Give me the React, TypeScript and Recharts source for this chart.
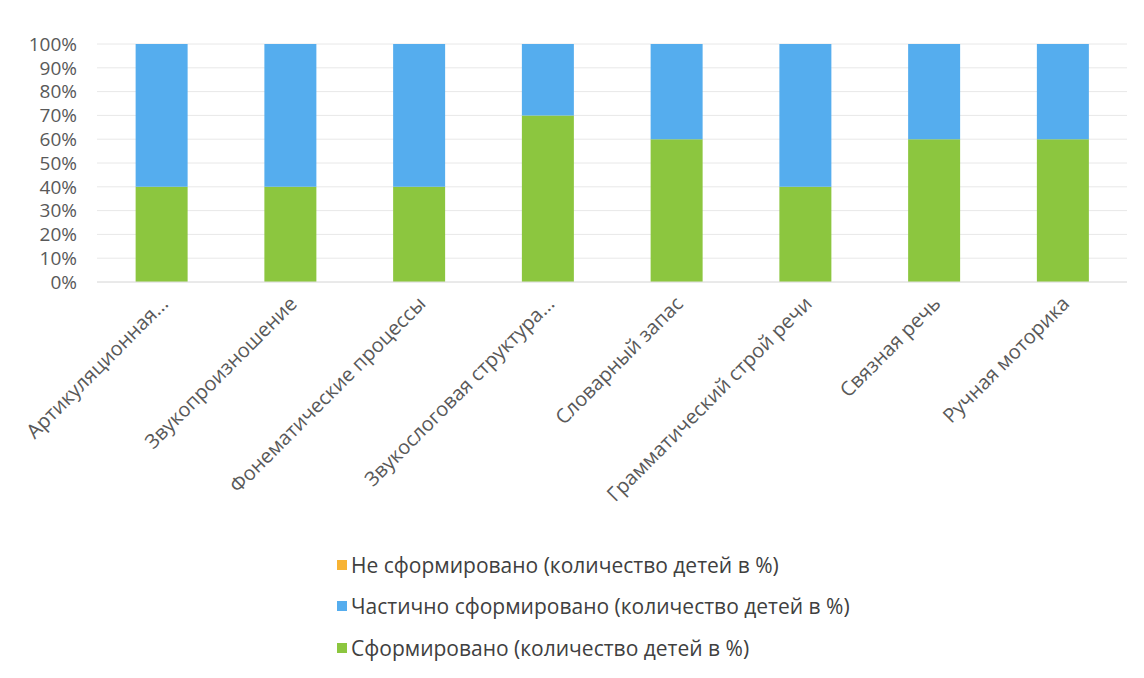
import React from "react";
import { BarChart, Bar, XAxis, YAxis, CartesianGrid, Legend } from "recharts";

const categories = [
  "Артикуляционная...",
  "Звукопроизношение",
  "Фонематические процессы",
  "Звукослоговая структура...",
  "Словарный запас",
  "Грамматический строй речи",
  "Связная речь",
  "Ручная моторика",
];
const formed = [40, 40, 40, 70, 60, 40, 60, 60];
const partial = [60, 60, 60, 30, 40, 60, 40, 40];
const notFormed = [0, 0, 0, 0, 0, 0, 0, 0];
const yTicks = [0, 10, 20, 30, 40, 50, 60, 70, 80, 90, 100];

const seriesNames = {
  notFormed: "Не сформировано (количество детей в %)",
  partial: "Частично сформировано (количество детей в %)",
  formed: "Сформировано (количество детей в %)",
};
const colors = { notFormed: "#F7B334", partial: "#55ADEE", formed: "#8CC63F" };

const data = categories.map((c, i) => ({
  name: c,
  formed: formed[i],
  partial: partial[i],
  notFormed: notFormed[i],
}));

const FONT = "'Open Sans', sans-serif";

const XTick = (props: any) => {
  const { x, y, payload } = props;
  return (
    <g transform={`translate(${x + 8},${y + 15})`}>
      <text
        transform="rotate(-45)"
        textAnchor="end"
        fill="#595959"
        fontSize={20}
        fontFamily={FONT}
      >
        {payload.value}
      </text>
    </g>
  );
};

const LegendContent = () => {
  const items = ["notFormed", "partial", "formed"] as const;
  return (
    <div style={{ fontFamily: FONT, fontSize: 21, color: "#404040" }}>
      {items.map((k) => (
        <div key={k} style={{ display: "flex", alignItems: "center", height: 41.5 }}>
          <span
            style={{
              display: "inline-block",
              width: 10,
              height: 10,
              background: colors[k],
              marginRight: 4,
            }}
          />
          <span>{seriesNames[k]}</span>
        </div>
      ))}
    </div>
  );
};

export default function App() {
  return (
    <div style={{ position: "absolute", left: 0, top: 0, background: "#fff" }}>
      <BarChart
        width={1144}
        height={678}
        data={data}
        stackOffset="expand"
        barCategoryGap="30%"
        margin={{ top: 44, right: 17, left: 0, bottom: 196 }}
      >
        <CartesianGrid vertical={false} stroke="#e8e8e8" />
        <XAxis
          dataKey="name"
          axisLine={{ stroke: "#e0e0e0" }}
          tickLine={false}
          interval={0}
          height={200}
          tick={<XTick />}
        />
        <YAxis
          width={97}
          ticks={yTicks.map((t) => t / 100)}
          domain={[0, 1]}
          tickFormatter={(v: number) => `${Math.round(v * 100)}%`}
          axisLine={false}
          tickLine={false}
          tickSize={0}
          tickMargin={20}
          tick={{ fill: "#595959", fontSize: 19, fontFamily: FONT }}
          interval={0}
        />
        <Legend
          verticalAlign="middle"
          align="center"
          layout="vertical"
          wrapperStyle={{ top: 544, left: 337, width: "auto" }}
          content={<LegendContent />}
        />
        <Bar dataKey="formed" stackId="a" fill={colors.formed} isAnimationActive={false} />
        <Bar dataKey="partial" stackId="a" fill={colors.partial} isAnimationActive={false} />
        <Bar dataKey="notFormed" stackId="a" fill={colors.notFormed} isAnimationActive={false} />
      </BarChart>
    </div>
  );
}
